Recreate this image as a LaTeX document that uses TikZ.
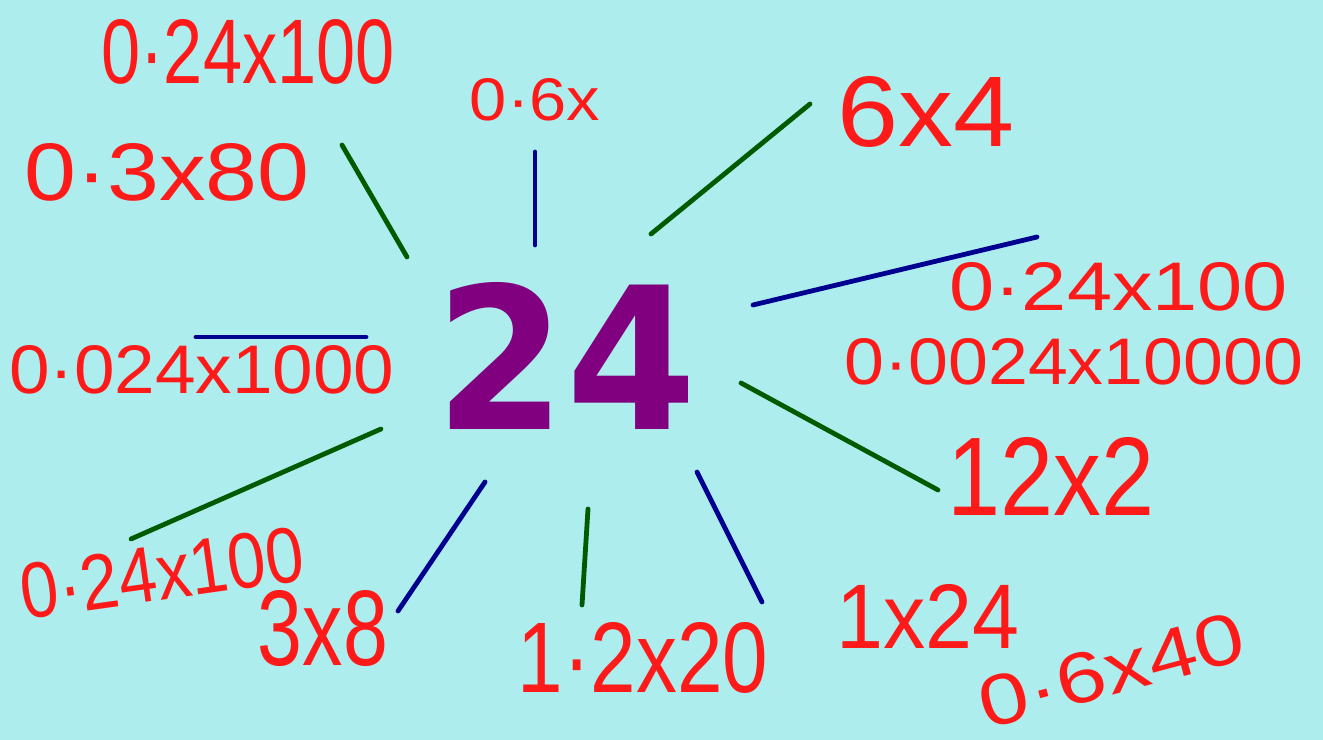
\documentclass[tikz,border=0pt]{standalone}
\usepackage{fontspec}
\usepackage{graphicx}
\setmainfont{Liberation Sans}
\newfontfamily\bigfont{DejaVu Sans}
\definecolor{bgc}{HTML}{AEEDED}
\definecolor{hwred}{HTML}{FF1A1A}
\definecolor{lgreen}{HTML}{005A00}
\definecolor{lblue}{HTML}{000090}
\definecolor{numpurple}{HTML}{800080}
\newcommand{\hw}[3]{\resizebox{#1cm}{#2cm}{#3}}
\tikzset{
  lbl/.style={inner sep=0pt, text=hwred},
  gline/.style={draw=lgreen, line width=0.048cm, line cap=round},
  bline/.style={draw=lblue, line width=0.048cm, line cap=round}
}
\begin{document}
\begin{tikzpicture}[x=0.01cm,y=-0.01cm]
\fill[bgc] (0,0) rectangle (1323,740);
\useasboundingbox (0,0) rectangle (1323,740);

% central number
\node[inner sep=0pt, text=numpurple] (c) at (566,356) {\hw{2.61}{1.47}{\bigfont\bfseries 24}};

% labels
\node[lbl] (t1) at (248,52) {\hw{2.93}{0.64}{0·24x100}};
\node[lbl] (t2) at (167,172) {\hw{2.85}{0.57}{0·3x80}};
\node[lbl] (t3) at (535,100) {\hw{1.30}{0.42}{0·6x}};
\node[lbl] (t4) at (926,112) {\hw{1.77}{0.70}{6x4}};
\node[lbl] (t5) at (1119,287) {\hw{3.38}{0.48}{0·24x100}};
\node[lbl] (t6) at (1074,362) {\hw{4.58}{0.46}{0·0024x10000}};
\node[lbl] (t7) at (202,370) {\hw{3.85}{0.48}{0·024x1000}};
\node[lbl] (t8) at (1051,476) {\hw{2.07}{0.78}{12x2}};
\node[lbl, rotate=8] (t9) at (162,573) {\hw{2.85}{0.55}{0·24x100}};
\node[lbl] (t10) at (323,629) {\hw{1.30}{0.75}{3x8}};
\node[lbl] (t11) at (643,658) {\hw{2.50}{0.70}{1·2x20}};
\node[lbl] (t12) at (928,616) {\hw{1.83}{0.64}{1x24}};
\node[lbl, rotate=15] (t13) at (1112,670) {\hw{2.72}{0.50}{0·6x40}};

% connector end points
\coordinate (a1) at (342,145); \coordinate (a2) at (407,257);
\coordinate (b1) at (535,152); \coordinate (b2) at (535,245);
\coordinate (c1) at (810,104); \coordinate (c2) at (651,234);
\coordinate (d1) at (753,305); \coordinate (d2) at (1037,237);
\coordinate (e1) at (196,337); \coordinate (e2) at (366,337);
\coordinate (f1) at (741,383); \coordinate (f2) at (938,490);
\coordinate (g1) at (381,429); \coordinate (g2) at (131,539);
\coordinate (h1) at (485,482); \coordinate (h2) at (398,611);
\coordinate (i1) at (588,509); \coordinate (i2) at (582,605);
\coordinate (j1) at (697,472); \coordinate (j2) at (762,602);

\draw[gline] (a1) -- (a2);
\draw[bline] (b1) -- (b2);
\draw[gline] (c1) -- (c2);
\draw[bline] (d1) -- (d2);
\draw[bline] (e1) -- (e2);
\draw[gline] (f1) -- (f2);
\draw[gline] (g1) -- (g2);
\draw[bline] (h1) -- (h2);
\draw[gline] (i1) -- (i2);
\draw[bline] (j1) -- (j2);
\end{tikzpicture}
\end{document}
